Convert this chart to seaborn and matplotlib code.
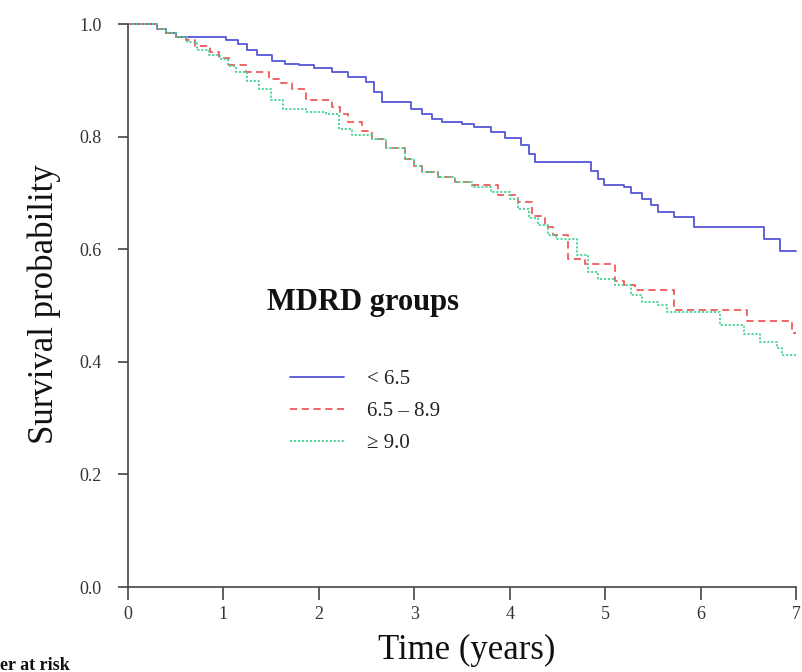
import numpy as np
import pandas as pd
import seaborn as sns
import matplotlib
matplotlib.use("Agg")
import matplotlib.pyplot as plt

# ---- data ----
groups = ["< 6.5", "6.5 \u2013 8.9", "\u2265 9.0"]

blue_t = [0, 0.30, 0.40, 0.50, 1.03, 1.15, 1.25, 1.35, 1.51, 1.65, 1.79, 1.95, 2.14, 2.30,
          2.49, 2.58, 2.66, 2.97, 3.08, 3.18, 3.29, 3.50, 3.63, 3.80, 3.95, 4.12, 4.20, 4.26,
          4.85, 4.92, 4.99, 5.20, 5.27, 5.38, 5.48, 5.55, 5.72, 5.93, 6.66, 6.83, 7.00]
blue_s = [1.0, 0.992, 0.985, 0.978, 0.972, 0.965, 0.955, 0.945, 0.935, 0.930, 0.927, 0.922,
          0.915, 0.907, 0.897, 0.880, 0.862, 0.850, 0.840, 0.832, 0.826, 0.823, 0.818, 0.808,
          0.797, 0.785, 0.770, 0.755, 0.740, 0.725, 0.714, 0.710, 0.700, 0.690, 0.678, 0.667,
          0.658, 0.640, 0.619, 0.597, 0.597]

red_t = [0, 0.30, 0.40, 0.50, 0.61, 0.70, 0.86, 0.95, 1.06, 1.24, 1.48, 1.60, 1.72, 1.86,
         2.14, 2.22, 2.31, 2.45, 2.56, 2.70, 2.90, 3.00, 3.08, 3.25, 3.43, 3.60, 3.88, 4.09,
         4.23, 4.37, 4.45, 4.61, 4.79, 5.10, 5.20, 5.31, 5.72, 6.49, 6.96, 7.00]
red_s = [1.0, 0.992, 0.985, 0.978, 0.972, 0.962, 0.950, 0.940, 0.927, 0.915, 0.903, 0.895,
         0.885, 0.865, 0.853, 0.840, 0.826, 0.810, 0.796, 0.780, 0.761, 0.748, 0.738, 0.728,
         0.720, 0.714, 0.697, 0.684, 0.660, 0.640, 0.626, 0.583, 0.574, 0.543, 0.537, 0.528,
         0.493, 0.472, 0.452, 0.452]

green_t = [0, 0.30, 0.40, 0.50, 0.62, 0.72, 0.85, 0.96, 1.05, 1.13, 1.25, 1.37, 1.50, 1.62,
           1.86, 2.07, 2.21, 2.35, 2.56, 2.70, 2.90, 3.00, 3.08, 3.25, 3.43, 3.60, 3.80, 4.00,
           4.09, 4.20, 4.30, 4.40, 4.48, 4.70, 4.82, 4.92, 5.10, 5.27, 5.38, 5.55, 5.65, 6.20,
           6.45, 6.62, 6.80, 6.85, 7.00]
green_s = [1.0, 0.992, 0.985, 0.978, 0.968, 0.954, 0.945, 0.938, 0.925, 0.915, 0.900, 0.885,
           0.866, 0.849, 0.844, 0.840, 0.814, 0.803, 0.796, 0.780, 0.761, 0.748, 0.738, 0.728,
           0.720, 0.710, 0.702, 0.690, 0.672, 0.655, 0.643, 0.625, 0.619, 0.590, 0.560, 0.548,
           0.537, 0.519, 0.507, 0.502, 0.489, 0.466, 0.449, 0.436, 0.424, 0.412, 0.412]

y_ticks = [0.0, 0.2, 0.4, 0.6, 0.8, 1.0]
x_ticks = [0, 1, 2, 3, 4, 5, 6, 7]

df = pd.concat([
    pd.DataFrame({"time": blue_t, "surv": blue_s, "group": groups[0]}),
    pd.DataFrame({"time": red_t, "surv": red_s, "group": groups[1]}),
    pd.DataFrame({"time": green_t, "surv": green_s, "group": groups[2]}),
], ignore_index=True)

sns.set_theme(style="ticks")
plt.rcParams["font.family"] = ["Liberation Serif", "DejaVu Serif"]

fig = plt.figure(figsize=(8.02, 6.72), dpi=100)
ax = fig.add_axes([128 / 802, 1 - 587 / 672, 671 / 802, 565 / 672])

palette = {groups[0]: "#5656d8", groups[1]: "#ef5a5a", groups[2]: "#45d394"}
dashes = {groups[0]: "", groups[1]: (4, 2.5), groups[2]: (1.2, 1.0)}

sns.lineplot(data=df, x="time", y="surv", hue="group", style="group",
             palette=palette, dashes=dashes, drawstyle="steps-post",
             estimator=None, sort=False, linewidth=1.3, legend=False, ax=ax)

ax.set_xlim(0, 7.03)
ax.set_ylim(0, 1.004)
ax.set_xticks(x_ticks)
ax.set_xticklabels([str(v) for v in x_ticks])
ax.set_yticks(y_ticks)
ax.set_yticklabels([f"{v:.1f}" for v in y_ticks])
for s in ["top", "right"]:
    ax.spines[s].set_visible(False)
ax.spines["left"].set_bounds(0, 1)
ax.spines["bottom"].set_bounds(0, 7)
for s in ["left", "bottom"]:
    ax.spines[s].set_color("#444444")
    ax.spines[s].set_linewidth(1.2)

ax.tick_params(axis="x", direction="out", length=9, width=1.2, pad=5,
               colors="#444444", labelsize=13)
ax.tick_params(axis="y", direction="out", length=7, width=1.2, pad=12,
               colors="#444444", labelsize=13)
for lab in ax.get_xticklabels() + ax.get_yticklabels():
    lab.set_color("#333333")

ax.set_xlabel("Time (years)", fontsize=25, color="#111111")
ax.set_ylabel("Survival probability", fontsize=25, color="#111111")
ax.xaxis.set_label_coords(0.505, -0.083)
ax.yaxis.set_label_coords(-0.10, 0.5)

ax.text(0.35, 0.503, "MDRD groups", transform=ax.transAxes, ha="center", va="center",
        fontsize=22, fontweight="bold", color="#111111")

handles = ax.get_lines()[:3]
leg = ax.legend(handles, groups, loc="upper left", bbox_to_anchor=(0.241, 0.385),
                frameon=False, fontsize=15, handlelength=2.6, handletextpad=1.1,
                labelspacing=0.6, borderpad=0, borderaxespad=0)
for t in leg.get_texts():
    t.set_color("#222222")

fig.text(70 / 802, 1 - 657 / 672, "Number at risk", ha="right", va="top",
         fontsize=13, fontweight="bold", color="#111111")

fig.savefig("out.png", dpi=100)
